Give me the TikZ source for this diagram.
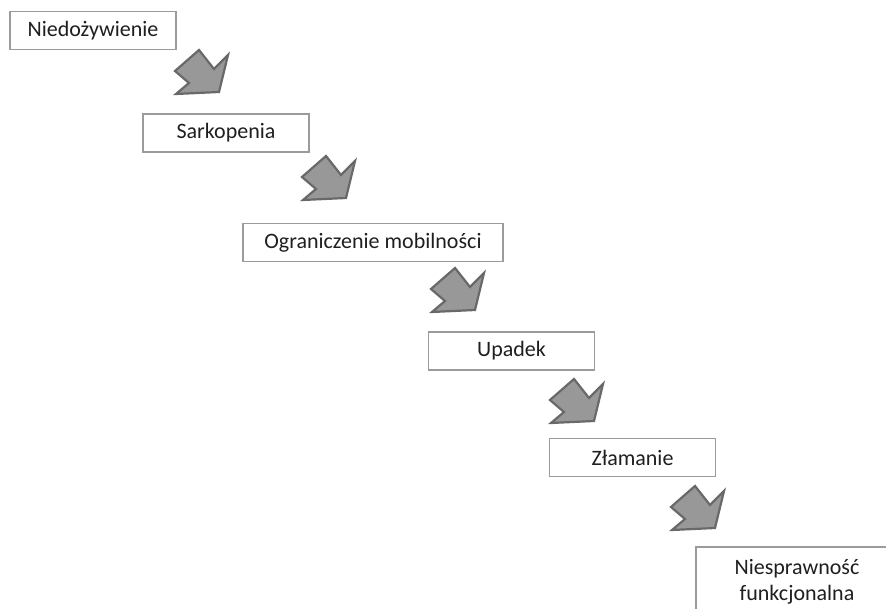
\documentclass[tikz,border=0pt]{standalone}
\usepackage{fontspec}
\setmainfont{Carlito}
\usetikzlibrary{positioning}

\definecolor{boxline}{RGB}{155,155,155}
\definecolor{arrowfill}{RGB}{152,152,152}
\definecolor{arrowline}{RGB}{105,105,105}

\tikzset{
  stage/.style={draw=boxline,line width=1.4pt,fill=white,minimum width=166pt,minimum height=38pt,
    inner sep=2pt,font=\fontsize{22}{26}\selectfont,text=black!88},
  stagearrow/.pic={
    \draw[fill=arrowfill,draw=arrowline,line width=2.2pt,line join=miter]
      (24,0) -- (39,19) -- (53,5) -- (44,42) -- (1,44) -- (14,33) -- (0,21) -- cycle;
  }
}

\begin{document}
\begin{tikzpicture}[x=1pt,y=-1pt]
	\clip (0,0) rectangle (886,609);
	\fill[white] (0,0) rectangle (886,609);
	\node [stage] at (93,30.5) (niedoz) {Niedożywienie};
	\node [stage] at (226,133) (sark) {Sarkopenia};
	\node [stage,minimum width=260pt] at (373,242.5) (ogran) {Ograniczenie mobilności};
	\node [stage] at (511.5,351) (upadek) {Upadek};
	\node [stage] at (632.5,457.5) (zlam) {Złamanie};
	\node [stage,minimum width=202pt,minimum height=70pt,align=center] at (797,582) (niespr)
		{Niesprawność\\funkcjonalna};
	\pic at (175,50) {stagearrow};
	\pic at (302,156) {stagearrow};
	\pic at (431,268) {stagearrow};
	\pic at (550,379) {stagearrow};
	\pic at (671,486) {stagearrow};
\end{tikzpicture}
\end{document}
